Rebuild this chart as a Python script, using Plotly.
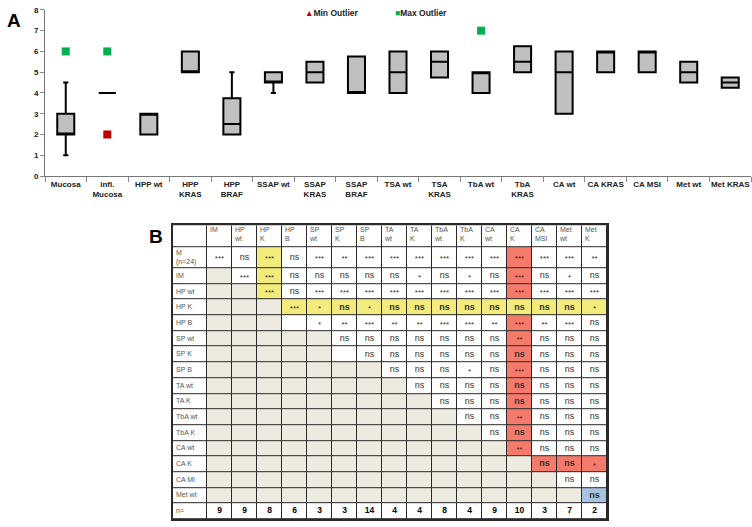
import plotly.graph_objects as go

W, H = 752, 527
FONT = "Arial, Liberation Sans, sans-serif"

# ---------------- Panel A data ----------------
categories = ["Mucosa", "infl. Mucosa", "HPP wt", "HPP KRAS", "HPP BRAF", "SSAP wt",
              "SSAP KRAS", "SSAP BRAF", "TSA wt", "TSA KRAS", "TbA wt", "TbA KRAS",
              "CA wt", "CA KRAS", "CA MSI", "Met wt", "Met KRAS"]
tick_labels = ["Mucosa", "infl.<br>Mucosa", "HPP wt", "HPP<br>KRAS", "HPP<br>BRAF", "SSAP wt",
               "SSAP<br>KRAS", "SSAP<br>BRAF", "TSA wt", "TSA<br>KRAS", "TbA wt", "TbA<br>KRAS",
               "CA wt", "CA KRAS", "CA MSI", "Met wt", "Met KRAS"]
q1 =     [2, 4, 2, 5, 2,    4.5, 4.5, 4,    4, 4.75, 4, 5,    3, 5, 5, 4.5, 4.25]
median = [2, 4, 3, 5, 2.5,  4.5, 5,   4,    5, 5.5,  5, 5.5,  5, 6, 6, 5,   4.5]
q3 =     [3, 4, 3, 6, 3.75, 5,   5.5, 5.75, 6, 6,    5, 6.25, 6, 6, 6, 5.5, 4.75]
lower =  [1, 4, 2, 5, 2,    4,   4.5, 4,    4, 4.75, 4, 5,    3, 5, 5, 4.5, 4.25]
upper =  [4.5, 4, 3, 6, 5,  5,   5.5, 5.75, 6, 6,    5, 6.25, 6, 6, 6, 5.5, 4.75]

max_outlier_cats = ["Mucosa", "infl. Mucosa", "TbA wt"]
max_outlier_vals = [6, 6, 7]
min_outlier_cats = ["infl. Mucosa"]
min_outlier_vals = [2]

# ---------------- Panel B data ----------------
col_labels = ["IM", "HP<br>wt", "HP<br>K", "HP<br>B", "SP<br>wt", "SP<br>K", "SP<br>B",
              "TA<br>wt", "TA<br>K", "TbA<br>wt", "TbA<br>K", "CA<br>wt", "CA<br>K",
              "CA<br>MSI", "Met<br>wt", "Met<br>K"]
row_labels = ["M<br>(n=24)", "IM", "HP wt", "HP K", "HP B", "SP wt", "SP K", "SP B",
              "TA wt", "TA K", "TbA wt", "TbA K", "CA wt", "CA K", "CA MI", "Met wt"]
G = None  # empty (shaded) cell
sig = [
    ["***", "ns", "***", "ns", "***", "**", "***", "***", "***", "***", "***", "***", "***", "***", "***", "**"],
    [G, "***", "***", "ns", "ns", "ns", "ns", "ns", "*", "ns", "*", "ns", "***", "ns", "*", "ns"],
    [G, G, "***", "ns", "***", "***", "***", "***", "***", "***", "***", "***", "***", "***", "***", "***"],
    [G, G, G, "***", "*", "ns", "*", "ns", "ns", "ns", "ns", "ns", "ns", "ns", "ns", "*"],
    [G, G, G, "", "*", "**", "***", "**", "**", "***", "***", "**", "***", "**", "***", "ns"],
    [G, G, G, G, G, "ns", "ns", "ns", "ns", "ns", "ns", "ns", "**", "ns", "ns", "ns"],
    [G, G, G, G, G, "", "ns", "ns", "ns", "ns", "ns", "ns", "ns", "ns", "ns", "ns"],
    [G, G, G, G, G, G, G, "ns", "ns", "ns", "*", "ns", "***", "ns", "ns", "ns"],
    [G, G, G, G, G, G, G, G, "ns", "ns", "ns", "ns", "ns", "ns", "ns", "ns"],
    [G, G, G, G, G, G, G, G, G, "ns", "ns", "ns", "ns", "ns", "ns", "ns"],
    [G, G, G, G, G, G, G, G, G, G, "ns", "ns", "**", "ns", "ns", "ns"],
    [G, G, G, G, G, G, G, G, G, G, G, "ns", "ns", "ns", "ns", "ns"],
    [G, G, G, G, G, G, G, G, G, G, G, G, "**", "ns", "ns", "ns"],
    [G, G, G, G, G, G, G, G, G, G, G, G, G, "ns", "ns", "*"],
    [G, G, G, G, G, G, G, G, G, G, G, G, G, G, "ns", "ns"],
    [G, G, G, G, G, G, G, G, G, G, G, G, G, G, G, "ns"],
]
n_values = [9, 9, 8, 6, 3, 3, 14, 4, 4, 8, 4, 9, 10, 3, 7, 2]

# ---------------- styling ----------------
YELLOW, RED, BLUE, SHADE, WHITE = "#f3ec7c", "#f47b6c", "#a9c2e0", "#edeae0", "#ffffff"
CODE = {WHITE: 0, SHADE: 1, YELLOW: 2, RED: 3, BLUE: 4}
COLORSCALE = [[0, WHITE], [0.25, SHADE], [0.5, YELLOW], [0.75, RED], [1, BLUE]]
COL_W = [34] + [25] * len(col_labels)                     # table column widths (px)
ROW_H = [22, 22] + [16] * (len(row_labels) - 1) + [16]     # header, M, others, n=


def highlight(r, c):
    if (c == 2 and r <= 2) or (r == 3 and c >= 3):
        return YELLOW
    if (c == 12 and r <= 12) or (r == 13 and c >= 13):
        return RED
    if r == 15 and c == 15:
        return BLUE
    return None


fig = go.Figure()

# ---- Panel A ----
fig.add_trace(go.Box(
    x=categories, q1=q1, median=median, q3=q3, lowerfence=lower, upperfence=upper,
    fillcolor="#c0c0c0", line=dict(color="#000000", width=2),
    width=0.41, whiskerwidth=0.3, boxpoints=False, showlegend=False, hoverinfo="skip",
))
fig.add_trace(go.Scatter(
    x=max_outlier_cats, y=max_outlier_vals, mode="markers", hoverinfo="skip",
    marker=dict(symbol="square", size=8, color="#00b050"), showlegend=False,
))
fig.add_trace(go.Scatter(
    x=min_outlier_cats, y=min_outlier_vals, mode="markers", hoverinfo="skip",
    marker=dict(symbol="square", size=8, color="#c00000"), showlegend=False,
))

# ---- Panel B (table built from a heatmap + text) ----
x_edges = [0]
for w in COL_W:
    x_edges.append(x_edges[-1] + w)
y_edges = [0]
for h in ROW_H:
    y_edges.append(y_edges[-1] + h)
n_tab_rows = len(ROW_H)
n_tab_cols = len(COL_W)

z = [[0] * n_tab_cols for _ in range(n_tab_rows)]
tx, ty, tt, ts, tc, tp = [], [], [], [], [], []


def add_text(x, y, t, size, color, pos):
    tx.append(x); ty.append(y); tt.append(t); ts.append(size); tc.append(color); tp.append(pos)


# header row
for c, lab in enumerate(col_labels):
    add_text(x_edges[c + 1] + 3, y_edges[0] + 2, lab, 7, "#555555", "bottom right")
# label column
for r, lab in enumerate(row_labels + ["n="]):
    add_text(x_edges[0] + 3, (y_edges[r + 1] + y_edges[r + 2]) / 2, lab, 7, "#555555", "middle right")
# significance cells
for r in range(len(row_labels)):
    for c in range(len(col_labels)):
        v = sig[r][c]
        hl = highlight(r, c)
        if v is None:
            z[r + 1][c + 1] = CODE[SHADE]
            continue
        z[r + 1][c + 1] = CODE[hl] if hl else 0
        if v:
            txt = "<b>ns</b>" if (v == "ns" and hl) else v
            col = "#5a1a14" if (hl == RED and v != "ns") else "#333333"
            add_text((x_edges[c + 1] + x_edges[c + 2]) / 2,
                     (y_edges[r + 1] + y_edges[r + 2]) / 2 + (0 if v == "ns" else 1.5),
                     txt, 9 if v == "ns" else 8, col, "middle center")
# n= row
for c, n in enumerate(n_values):
    add_text((x_edges[c + 1] + x_edges[c + 2]) / 2,
             (y_edges[-2] + y_edges[-1]) / 2, "<b>%d</b>" % n, 8.5, "#000000", "middle center")

# black backing so the cell gaps read as grid lines
fig.add_trace(go.Heatmap(
    x=[x_edges[0], x_edges[-1]], y=[y_edges[0], y_edges[-1]], z=[[0]],
    colorscale=[[0, "#2a2a2a"], [1, "#2a2a2a"]], showscale=False, hoverinfo="skip",
    xaxis="x2", yaxis="y2",
))
fig.add_trace(go.Heatmap(
    x=x_edges, y=y_edges, z=z, zmin=0, zmax=4, colorscale=COLORSCALE,
    xgap=1, ygap=1, showscale=False, hoverinfo="skip", xaxis="x2", yaxis="y2",
))
fig.add_trace(go.Scatter(
    x=tx, y=ty, text=tt, mode="text", textposition=tp, hoverinfo="skip",
    textfont=dict(family=FONT, size=ts, color=tc), showlegend=False,
    xaxis="x2", yaxis="y2", cliponaxis=False,
))

fig.update_layout(
    width=W, height=H, margin=dict(l=0, r=0, t=0, b=0),
    paper_bgcolor="white", plot_bgcolor="white", showlegend=False,
    xaxis=dict(domain=[45 / W, 751 / W], type="category", categoryorder="array",
               categoryarray=categories, tickvals=categories, ticktext=tick_labels,
               tickson="boundaries", ticks="outside", ticklen=5, tickcolor="#888888",
               showline=True, linecolor="#777777", linewidth=1, showgrid=False,
               tickangle=0,
               tickfont=dict(family=FONT, size=8, color="#222222", weight="bold"),
               range=[-0.5, 16.5], anchor="y"),
    yaxis=dict(domain=[1 - 175 / H, 1 - 6 / H], range=[0, 8], dtick=1,
               ticks="outside", ticklen=4, tickcolor="#888888",
               showline=True, linecolor="#777777", linewidth=1, showgrid=False,
               zeroline=False,
               tickfont=dict(family=FONT, size=8, color="#222222", weight="bold"),
               anchor="x"),
    xaxis2=dict(domain=[173 / W, 607 / W], range=[x_edges[0], x_edges[-1]],
                showgrid=False, zeroline=False, showticklabels=False, ticks="",
                showline=True, mirror=True, linecolor="#2a2a2a", linewidth=1.5,
                anchor="y2", fixedrange=True),
    yaxis2=dict(domain=[1 - 524 / H, 1 - 225 / H], range=[y_edges[-1], y_edges[0]],
                showgrid=False, zeroline=False, showticklabels=False, ticks="",
                showline=True, mirror=True, linecolor="#2a2a2a", linewidth=1.5,
                anchor="x2", fixedrange=True),
    annotations=[
        dict(text="<b>A</b>", x=5 / W, y=1 - 17 / H, xref="paper", yref="paper",
             xanchor="left", yanchor="middle", showarrow=False,
             font=dict(family=FONT, size=19, color="#000000")),
        dict(text="<b>B</b>", x=147 / W, y=1 - 237 / H, xref="paper", yref="paper",
             xanchor="left", yanchor="middle", showarrow=False,
             font=dict(family=FONT, size=19, color="#000000")),
        dict(text='<span style="color:#c00000">▲</span><b>Min Outlier</b>',
             x=303 / W, y=1 - 9 / H, xref="paper", yref="paper",
             xanchor="left", yanchor="middle", showarrow=False,
             font=dict(family=FONT, size=8.5, color="#222222")),
        dict(text='<span style="color:#00b050">■</span><b>Max Outlier</b>',
             x=393 / W, y=1 - 9 / H, xref="paper", yref="paper",
             xanchor="left", yanchor="middle", showarrow=False,
             font=dict(family=FONT, size=8.5, color="#222222")),
    ],
)

fig.write_html("out.html", config={"displayModeBar": False},
               post_script="document.body.style.margin='0';document.body.style.overflow='hidden';")
